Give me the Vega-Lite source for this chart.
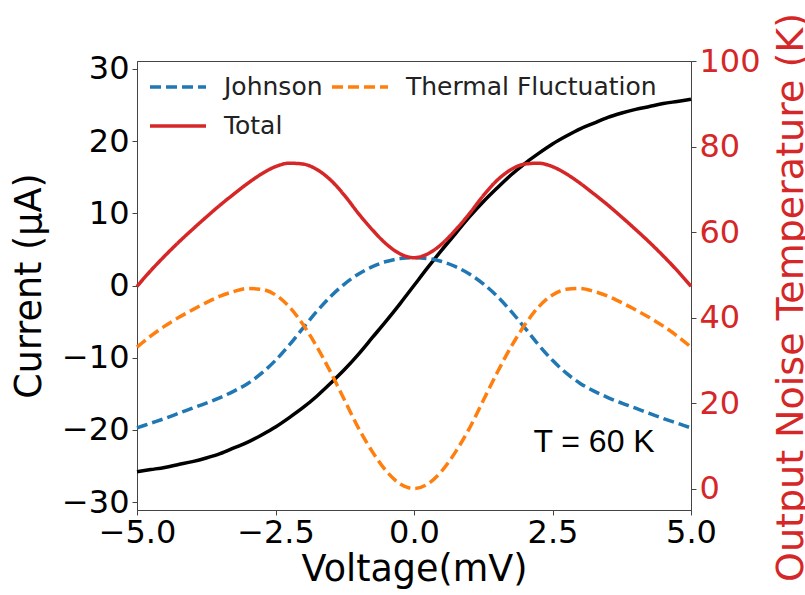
{
  "$schema": "https://vega.github.io/schema/vega-lite/v6.json",
  "width": 554,
  "height": 449,
  "autosize": {"type": "none"},
  "padding": {"left": 137, "top": 61, "right": 114, "bottom": 85},
  "background": "white",
  "config": {
    "font": "DejaVu Sans",
    "view": {"stroke": "#444", "strokeWidth": 1},
    "axis": {
      "grid": false,
      "domainColor": "#444",
      "tickColor": "#444",
      "tickSize": 5,
      "labelFont": "DejaVu Sans",
      "labelFontSize": 32,
      "labelColor": "black",
      "labelFlush": false,
      "labelOverlap": false,
      "titleFont": "DejaVu Sans",
      "titleFontSize": 36.5,
      "titleFontWeight": "normal",
      "titleColor": "black"
    }
  },
  "datasets": {
    "iv": [
      {"v": -5, "current": -25.8}, {"v": -4.75, "current": -25.5}, {"v": -4.5, "current": -25.2},
      {"v": -4.25, "current": -24.8}, {"v": -4, "current": -24.4}, {"v": -3.75, "current": -23.9},
      {"v": -3.5, "current": -23.3}, {"v": -3.25, "current": -22.5}, {"v": -3, "current": -21.7},
      {"v": -2.75, "current": -20.7}, {"v": -2.5, "current": -19.6}, {"v": -2.25, "current": -18.3},
      {"v": -2, "current": -16.9}, {"v": -1.75, "current": -15.3}, {"v": -1.5, "current": -13.5},
      {"v": -1.25, "current": -11.6}, {"v": -1, "current": -9.5}, {"v": -0.75, "current": -7.2},
      {"v": -0.5, "current": -4.9}, {"v": -0.25, "current": -2.5}, {"v": 0, "current": 0},
      {"v": 0.25, "current": 2.5}, {"v": 0.5, "current": 4.9}, {"v": 0.75, "current": 7.2},
      {"v": 1, "current": 9.5}, {"v": 1.25, "current": 11.6}, {"v": 1.5, "current": 13.5},
      {"v": 1.75, "current": 15.3}, {"v": 2, "current": 16.9}, {"v": 2.25, "current": 18.3},
      {"v": 2.5, "current": 19.6}, {"v": 2.75, "current": 20.7}, {"v": 3, "current": 21.7},
      {"v": 3.25, "current": 22.5}, {"v": 3.5, "current": 23.3}, {"v": 3.75, "current": 23.9},
      {"v": 4, "current": 24.4}, {"v": 4.25, "current": 24.8}, {"v": 4.5, "current": 25.2},
      {"v": 4.75, "current": 25.5}, {"v": 5, "current": 25.8}
    ],
    "note": [
      {"v": 3.25, "temp": 8.6, "label": "T = 60 K"}
    ],
    "noise": [
      {"v": -5, "component": "Johnson", "temp": 14.2}, {"v": -4.75, "component": "Johnson", "temp": 15.3},
      {"v": -4.5, "component": "Johnson", "temp": 16.4}, {"v": -4.25, "component": "Johnson", "temp": 17.6},
      {"v": -4, "component": "Johnson", "temp": 18.8}, {"v": -3.75, "component": "Johnson", "temp": 20.0},
      {"v": -3.5, "component": "Johnson", "temp": 21.3}, {"v": -3.25, "component": "Johnson", "temp": 22.8},
      {"v": -3, "component": "Johnson", "temp": 24.6}, {"v": -2.75, "component": "Johnson", "temp": 27.0},
      {"v": -2.5, "component": "Johnson", "temp": 30.0}, {"v": -2.25, "component": "Johnson", "temp": 33.6},
      {"v": -2, "component": "Johnson", "temp": 37.6}, {"v": -1.75, "component": "Johnson", "temp": 41.5},
      {"v": -1.5, "component": "Johnson", "temp": 45.0}, {"v": -1.25, "component": "Johnson", "temp": 47.9},
      {"v": -1, "component": "Johnson", "temp": 50.2}, {"v": -0.75, "component": "Johnson", "temp": 51.9},
      {"v": -0.5, "component": "Johnson", "temp": 53.1}, {"v": -0.25, "component": "Johnson", "temp": 53.8},
      {"v": 0, "component": "Johnson", "temp": 54.0}, {"v": 0.25, "component": "Johnson", "temp": 53.8},
      {"v": 0.5, "component": "Johnson", "temp": 53.1}, {"v": 0.75, "component": "Johnson", "temp": 51.9},
      {"v": 1, "component": "Johnson", "temp": 50.2}, {"v": 1.25, "component": "Johnson", "temp": 47.9},
      {"v": 1.5, "component": "Johnson", "temp": 45.0}, {"v": 1.75, "component": "Johnson", "temp": 41.5},
      {"v": 2, "component": "Johnson", "temp": 37.6}, {"v": 2.25, "component": "Johnson", "temp": 33.6},
      {"v": 2.5, "component": "Johnson", "temp": 30.0}, {"v": 2.75, "component": "Johnson", "temp": 27.0},
      {"v": 3, "component": "Johnson", "temp": 24.6}, {"v": 3.25, "component": "Johnson", "temp": 22.8},
      {"v": 3.5, "component": "Johnson", "temp": 21.3}, {"v": 3.75, "component": "Johnson", "temp": 20.0},
      {"v": 4, "component": "Johnson", "temp": 18.8}, {"v": 4.25, "component": "Johnson", "temp": 17.6},
      {"v": 4.5, "component": "Johnson", "temp": 16.4}, {"v": 4.75, "component": "Johnson", "temp": 15.3},
      {"v": 5, "component": "Johnson", "temp": 14.2},

      {"v": -5, "component": "Thermal Fluctuation", "temp": 33.1}, {"v": -4.75, "component": "Thermal Fluctuation", "temp": 35.7},
      {"v": -4.5, "component": "Thermal Fluctuation", "temp": 38.0}, {"v": -4.25, "component": "Thermal Fluctuation", "temp": 40.0},
      {"v": -4, "component": "Thermal Fluctuation", "temp": 41.8}, {"v": -3.75, "component": "Thermal Fluctuation", "temp": 43.5},
      {"v": -3.5, "component": "Thermal Fluctuation", "temp": 45.0}, {"v": -3.25, "component": "Thermal Fluctuation", "temp": 46.1},
      {"v": -3, "component": "Thermal Fluctuation", "temp": 46.8}, {"v": -2.75, "component": "Thermal Fluctuation", "temp": 46.6},
      {"v": -2.5, "component": "Thermal Fluctuation", "temp": 45.3}, {"v": -2.25, "component": "Thermal Fluctuation", "temp": 42.5},
      {"v": -2, "component": "Thermal Fluctuation", "temp": 38.3}, {"v": -1.75, "component": "Thermal Fluctuation", "temp": 33.1},
      {"v": -1.5, "component": "Thermal Fluctuation", "temp": 27.1}, {"v": -1.25, "component": "Thermal Fluctuation", "temp": 20.6},
      {"v": -1, "component": "Thermal Fluctuation", "temp": 14.1}, {"v": -0.75, "component": "Thermal Fluctuation", "temp": 8.6},
      {"v": -0.5, "component": "Thermal Fluctuation", "temp": 4.1}, {"v": -0.25, "component": "Thermal Fluctuation", "temp": 1.1},
      {"v": 0, "component": "Thermal Fluctuation", "temp": 0.0}, {"v": 0.25, "component": "Thermal Fluctuation", "temp": 1.1},
      {"v": 0.5, "component": "Thermal Fluctuation", "temp": 4.1}, {"v": 0.75, "component": "Thermal Fluctuation", "temp": 8.6},
      {"v": 1, "component": "Thermal Fluctuation", "temp": 14.1}, {"v": 1.25, "component": "Thermal Fluctuation", "temp": 20.6},
      {"v": 1.5, "component": "Thermal Fluctuation", "temp": 27.1}, {"v": 1.75, "component": "Thermal Fluctuation", "temp": 33.1},
      {"v": 2, "component": "Thermal Fluctuation", "temp": 38.3}, {"v": 2.25, "component": "Thermal Fluctuation", "temp": 42.5},
      {"v": 2.5, "component": "Thermal Fluctuation", "temp": 45.3}, {"v": 2.75, "component": "Thermal Fluctuation", "temp": 46.6},
      {"v": 3, "component": "Thermal Fluctuation", "temp": 46.8}, {"v": 3.25, "component": "Thermal Fluctuation", "temp": 46.1},
      {"v": 3.5, "component": "Thermal Fluctuation", "temp": 45.0}, {"v": 3.75, "component": "Thermal Fluctuation", "temp": 43.5},
      {"v": 4, "component": "Thermal Fluctuation", "temp": 41.8}, {"v": 4.25, "component": "Thermal Fluctuation", "temp": 40.0},
      {"v": 4.5, "component": "Thermal Fluctuation", "temp": 38.0}, {"v": 4.75, "component": "Thermal Fluctuation", "temp": 35.7},
      {"v": 5, "component": "Thermal Fluctuation", "temp": 33.1},

      {"v": -5, "component": "Total", "temp": 47.3}, {"v": -4.75, "component": "Total", "temp": 51.0},
      {"v": -4.5, "component": "Total", "temp": 54.4}, {"v": -4.25, "component": "Total", "temp": 57.6},
      {"v": -4, "component": "Total", "temp": 60.6}, {"v": -3.75, "component": "Total", "temp": 63.5},
      {"v": -3.5, "component": "Total", "temp": 66.3}, {"v": -3.25, "component": "Total", "temp": 68.9},
      {"v": -3, "component": "Total", "temp": 71.4}, {"v": -2.75, "component": "Total", "temp": 73.6},
      {"v": -2.5, "component": "Total", "temp": 75.3}, {"v": -2.25, "component": "Total", "temp": 76.1},
      {"v": -2, "component": "Total", "temp": 75.9}, {"v": -1.75, "component": "Total", "temp": 74.6},
      {"v": -1.5, "component": "Total", "temp": 72.1}, {"v": -1.25, "component": "Total", "temp": 68.5},
      {"v": -1, "component": "Total", "temp": 64.3}, {"v": -0.75, "component": "Total", "temp": 60.5},
      {"v": -0.5, "component": "Total", "temp": 57.2}, {"v": -0.25, "component": "Total", "temp": 54.9},
      {"v": 0, "component": "Total", "temp": 54.0}, {"v": 0.25, "component": "Total", "temp": 54.9},
      {"v": 0.5, "component": "Total", "temp": 57.2}, {"v": 0.75, "component": "Total", "temp": 60.5},
      {"v": 1, "component": "Total", "temp": 64.3}, {"v": 1.25, "component": "Total", "temp": 68.5},
      {"v": 1.5, "component": "Total", "temp": 72.1}, {"v": 1.75, "component": "Total", "temp": 74.6},
      {"v": 2, "component": "Total", "temp": 75.9}, {"v": 2.25, "component": "Total", "temp": 76.1},
      {"v": 2.5, "component": "Total", "temp": 75.3}, {"v": 2.75, "component": "Total", "temp": 73.6},
      {"v": 3, "component": "Total", "temp": 71.4}, {"v": 3.25, "component": "Total", "temp": 68.9},
      {"v": 3.5, "component": "Total", "temp": 66.3}, {"v": 3.75, "component": "Total", "temp": 63.5},
      {"v": 4, "component": "Total", "temp": 60.6}, {"v": 4.25, "component": "Total", "temp": 57.6},
      {"v": 4.5, "component": "Total", "temp": 54.4}, {"v": 4.75, "component": "Total", "temp": 51.0},
      {"v": 5, "component": "Total", "temp": 47.3}
    ]
  },
  "layer": [
    {
      "data": {"name": "iv"},
      "mark": {"type": "line", "color": "black", "strokeWidth": 3.5, "interpolate": "monotone"},
      "encoding": {
        "x": {
          "field": "v", "type": "quantitative",
          "scale": {"domain": [-5, 5], "nice": false, "zero": false},
          "axis": {
            "values": [-5, -2.5, 0, 2.5, 5], "format": ".1f",
            "title": "Voltage(mV)", "labelPadding": 2,
            "titleX": 277, "titleY": 70, "titleBaseline": "alphabetic", "titleAlign": "center"
          }
        },
        "y": {
          "field": "current", "type": "quantitative",
          "scale": {"domain": [-31.1, 31.1], "nice": false, "zero": false},
          "axis": {
            "values": [-30, -20, -10, 0, 10, 20, 30], "format": "d",
            "title": "Current (μA)", "labelPadding": 3,
            "titleX": -97, "titleY": 224.5, "titleAngle": -90,
            "titleBaseline": "alphabetic", "titleAlign": "center"
          }
        }
      }
    },
    {
      "layer": [
        {
          "data": {"name": "noise"},
          "mark": {"type": "line", "strokeWidth": 3.5, "interpolate": "monotone"},
          "encoding": {
            "x": {"field": "v", "type": "quantitative"},
            "y": {
              "field": "temp", "type": "quantitative",
              "scale": {"domain": [-5, 100], "nice": false, "zero": false},
              "axis": {
                "orient": "right",
                "values": [0, 20, 40, 60, 80, 100], "format": "d",
                "labelColor": "#d62728", "titleColor": "#d62728",
                "title": "Output Noise Temperature (K)", "labelPadding": 3,
                "titleFontSize": 38,
                "titleX": 111, "titleY": 236, "titleAngle": -90,
                "titleBaseline": "alphabetic", "titleAlign": "center"
              }
            },
            "color": {
              "field": "component", "type": "nominal",
              "scale": {
                "domain": ["Johnson", "Total", "Thermal Fluctuation"],
                "range": ["#1f77b4", "#d62728", "#ff7f0e"]
              },
              "legend": {
                "title": null, "orient": "none", "legendX": 25, "legendY": 10,
                "columns": 2, "columnPadding": 2, "rowPadding": 10,
                "symbolType": "M-2,0L2,0", "symbolSize": 784, "symbolStrokeWidth": 3.5,
                "labelFont": "DejaVu Sans", "labelFontSize": 25, "labelColor": "#222",
                "labelOffset": 30, "labelLimit": 400, "padding": 0
              }
            },
            "strokeDash": {
              "field": "component", "type": "nominal",
              "scale": {
                "domain": ["Johnson", "Total", "Thermal Fluctuation"],
                "range": [[11, 5], [1, 0], [11, 5]]
              },
              "legend": {"title": null}
            }
          }
        },
        {
          "data": {"name": "note"},
          "mark": {"type": "text", "font": "Liberation Sans", "fontSize": 32, "color": "black", "align": "center", "baseline": "alphabetic"},
          "encoding": {
            "x": {"field": "v", "type": "quantitative"},
            "y": {"field": "temp", "type": "quantitative"},
            "text": {"field": "label"}
          }
        }
      ]
    }
  ],
  "resolve": {"scale": {"y": "independent"}}
}
